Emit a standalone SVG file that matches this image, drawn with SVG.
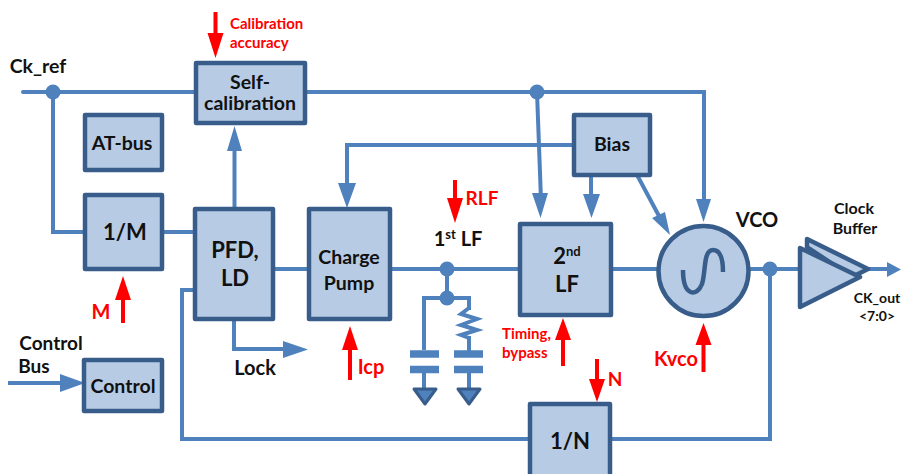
<svg xmlns="http://www.w3.org/2000/svg" width="901" height="474" viewBox="0 0 901 474">
<style>
.n{fill:#b7cce4;stroke:#385d8a;stroke-width:4.500;stroke-linejoin:round}
.w{fill:none;stroke:#4f81bd;stroke-width:4}
.d{fill:#4f81bd}
.r{fill:none;stroke:#ff0000;stroke-width:4}
.rh{fill:#ff0000}
text{font-family:Lato,"Liberation Sans",sans-serif;font-weight:700;fill:#111;text-anchor:middle}
.t{font-size:19.500px}
.b{font-size:22px}
.s{font-size:14px}
.red{fill:#ff0000}
.l{text-anchor:start;font-size:15px}
.sup{font-size:13px}
</style>
<g id="connectors">
<path class="w" stroke-linecap="round" d="M23 92H195"/>
<path class="w" d="M53 92V232H84M305 92H704V205M537 92L541 200M163 232H195M234.500 208V150M234 320V349H285M275 269H309M390 269H520M447 269V298M347 184V145H574M591 176V200M636 173L659 216M610 269H660M750 269H800M770 269V439H610M530 439H182V290H195M868 269H888M8 383H62M424 350V298H469V310M469 336V352M424 373V390M469 373V390"/>
<path class="w" d="M469 308L461 314L477 319L461 325L477 330L461 335L469 338" stroke-width="3.500"/>
<path class="d" d="M227 151L234.500 126L242 151ZM338 183H356L347 208ZM532 193H548L540.500 218ZM696 199H711L703.500 222ZM583 194H600L591.500 218ZM283 341V358L308 349.500ZM60 374V392L85 383ZM652 218L665 212L670 235ZM887 262V277L901 269.500Z"/>
<circle class="d" cx="53" cy="92" r="7.500"/><circle class="d" cx="537" cy="92" r="7.500"/><circle class="d" cx="447" cy="269" r="7.500"/><circle class="d" cx="447" cy="298" r="7.500"/><circle class="d" cx="770" cy="269" r="7.500"/>
</g>
<g id="cap1"><path d="M410 354H439M410 369.500H439" stroke="#4f81bd" stroke-width="7.500" fill="none"/><path d="M414 389H436L425 404Z" fill="#4f81bd" stroke="#385d8a" stroke-width="3" stroke-linejoin="round"/></g>
<g id="cap2"><path d="M454 354H483M454 369.500H483" stroke="#4f81bd" stroke-width="7.500" fill="none"/><path d="M458 389H480L469 404Z" fill="#4f81bd" stroke="#385d8a" stroke-width="3" stroke-linejoin="round"/></g>
<g id="self-calibration"><rect class="n" x="196" y="63" width="109" height="60"/><text class="t" x="250" y="89">Self-</text><text class="t" x="250" y="110">calibration</text></g>
<g id="at-bus"><rect class="n" x="85" y="115" width="77" height="55"/><text class="t" x="122" y="150">AT-bus</text></g>
<g id="div-m"><rect class="n" x="85" y="195" width="77" height="74"/><text class="b" x="125" y="240">1/M</text></g>
<g id="pfd"><rect class="n" x="195" y="209" width="78" height="110"/><text class="b" x="235" y="258">PFD,</text><text class="b" x="235" y="286">LD</text></g>
<g id="charge-pump"><rect class="n" x="309" y="209" width="81" height="110"/><text class="t" x="349" y="264">Charge</text><text class="t" x="349" y="290">Pump</text></g>
<g id="lf2"><rect class="n" x="520" y="224" width="91" height="91"/><text class="b" x="567" y="264">2<tspan class="sup" dy="-8">nd</tspan></text><text class="b" x="567" y="292">LF</text></g>
<g id="bias"><rect class="n" x="574" y="115" width="76" height="60"/><text class="t" x="612" y="151">Bias</text></g>
<g id="vco"><circle cx="703.500" cy="271" r="45" class="n"/><path d="M683 270C683 297 697 297 702 284C706 272 703 250 713 250C722 250 723 262 723 272" fill="none" stroke="#385d8a" stroke-width="4.500"/><text x="757" y="227" font-size="20">VCO</text></g>
<g id="clock-buffer"><path d="M807 239L868 269L852 277L807 247Z" class="n"/><path class="n" d="M800 248V307L860 277Z"/><text x="854" y="214" font-size="16">Clock</text><text x="855" y="234" font-size="16">Buffer</text><text class="s" x="877" y="303">CK_out</text><text class="s" x="877" y="321">&lt;7:0&gt;</text></g>
<g id="control"><rect class="n" x="84" y="360" width="78" height="51"/><text class="t" x="123" y="393">Control</text></g>
<g id="div-n"><rect class="n" x="530" y="404" width="80" height="74"/><text class="b" x="570" y="449">1/N</text></g>
<g id="labels">
<text class="t" x="38" y="73">Ck_ref</text>
<text x="51" y="350" font-size="19">Control</text><text x="34" y="373" font-size="19">Bus</text>
<text x="255" y="375" font-size="20">Lock</text>
<text x="458" y="246" font-size="20">1<tspan class="sup" dy="-7">st</tspan><tspan dy="7"> LF</tspan></text>
<text class="red" font-size="20" x="101" y="319">M</text><text class="red" font-size="20" x="371" y="374">Icp</text><text class="red" font-size="19" x="482" y="205">RLF</text><text class="red" font-size="19" x="615" y="386">N</text><text class="red" font-size="20" x="676" y="366">Kvco</text>
<text class="red l" x="230" y="29">Calibration</text><text class="red l" x="230" y="48">accuracy</text>
<text class="red l" x="502" y="339">Timing,</text><text class="red l" x="502" y="358">bypass</text>
</g>
<g id="red-arrows">
<path class="r" d="M215.500 12V34M455 180V200M123 295V323M350 345V380M563 335V366M597 359V380M703.500 340V372"/>
<path class="rh" d="M207.500 33H223.500L215.500 58ZM447 198H463L455 223ZM115 300H131L123 276ZM342 350H358L350 326ZM555 340H571L563 318ZM589 379H605L597 402ZM695.500 345H711.500L703.500 323Z"/>
</g>
</svg>
